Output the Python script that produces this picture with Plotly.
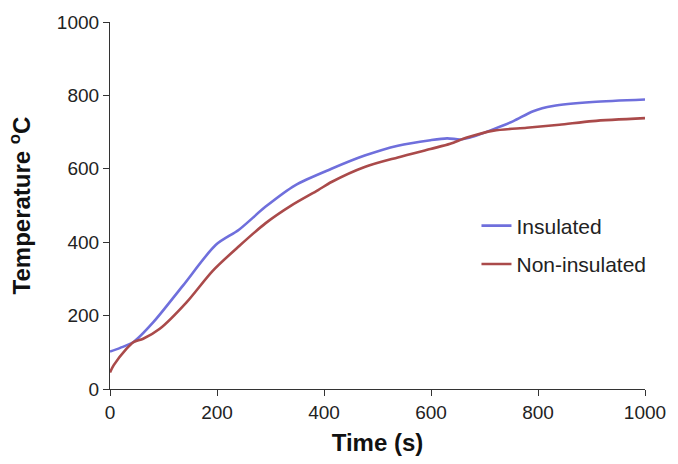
import plotly.graph_objects as go

# Temperature histories (time in s, temperature in °C)
time_insulated = [0, 19, 44, 81, 136, 198, 241, 291, 346, 414, 476, 538, 599,
                  630, 655, 673, 717, 754, 791, 828, 902, 1000]
temp_insulated = [102, 112, 128, 182, 281, 393, 434, 497, 555, 600, 636, 663, 678,
                  683, 680, 685, 708, 730, 757, 771, 782, 789]

time_non_insulated = [0, 7, 31, 44, 62, 93, 143, 192, 241, 291, 340, 389, 414, 476,
                      538, 599, 636, 667, 717, 779, 840, 902, 1000]
temp_non_insulated = [45, 65, 110, 128, 137, 164, 236, 322, 389, 452, 501, 542, 564, 605,
                      631, 654, 668, 685, 704, 712, 720, 730, 738]

series_names = ["Insulated", "Non-insulated"]
series_colors = ["#6f6fdc", "#aa4a4a"]

x_ticks = [0, 200, 400, 600, 800, 1000]
y_ticks = [0, 200, 400, 600, 800, 1000]

FONT = "Liberation Sans, Arial, sans-serif"

fig = go.Figure()
for name, xs, ys, color in zip(series_names,
                                [time_insulated, time_non_insulated],
                                [temp_insulated, temp_non_insulated],
                                series_colors):
    fig.add_trace(go.Scatter(
        x=xs, y=ys, name=name, mode="lines", legendgroup=name,
        line=dict(color=color, width=2.6, shape="spline", smoothing=0.8),
    ))

axis_common = dict(
    showgrid=False, zeroline=False, showline=True, linecolor="#333333",
    linewidth=1.2, ticks="outside", ticklen=6, tickcolor="#333333",
    tickfont=dict(family=FONT, size=19, color="#222222"),
)

fig.update_layout(
    width=678, height=464,
    margin=dict(l=110, r=25, t=17, b=73),
    paper_bgcolor="white", plot_bgcolor="white",
    xaxis=dict(range=[0, 1000], tickvals=x_ticks,
               title=dict(text="<b>Time (s)</b>", standoff=12,
                          font=dict(family=FONT, size=24, color="#111111")),
               **axis_common),
    yaxis=dict(range=[0, 1000], tickvals=y_ticks,
               title=dict(text="<b>Temperature <sup>o</sup>C</b>", standoff=19,
                          font=dict(family=FONT, size=24, color="#111111")),
               **axis_common),
    legend=dict(x=0.685, y=0.5, xanchor="left", yanchor="top",
                bgcolor="rgba(0,0,0,0)", tracegroupgap=8,
                font=dict(family=FONT, size=21, color="#222222")),
    showlegend=True,
)

fig.write_html("out.html")
